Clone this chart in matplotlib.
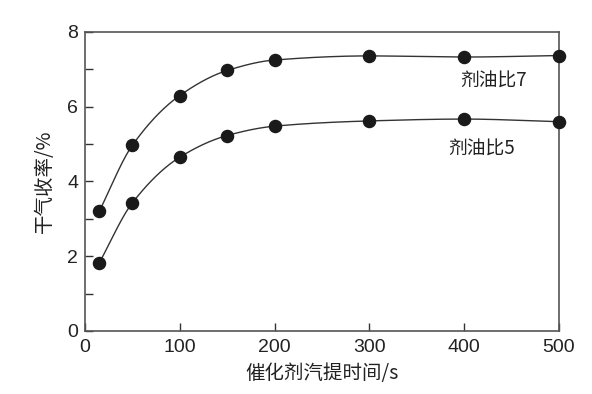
import numpy as np
import matplotlib
matplotlib.use("Agg")
import matplotlib.pyplot as plt
from matplotlib.ticker import MultipleLocator

plt.rcParams['font.family'] = ['Noto Sans CJK SC', 'DejaVu Sans']

time_s = [15, 50, 100, 150, 200, 300, 400, 500]
ratio7 = [3.2, 4.97, 6.3, 6.97, 7.25, 7.36, 7.33, 7.37]
ratio5 = [1.82, 3.43, 4.65, 5.23, 5.48, 5.62, 5.67, 5.6]
xticks = [0, 100, 200, 300, 400, 500]
yticks = [0, 2, 4, 6, 8]


def pchip(x, y, xn):
    x = np.asarray(x, float); y = np.asarray(y, float)
    h = np.diff(x); d = np.diff(y) / h
    n = len(x); m = np.zeros(n)
    for k in range(1, n - 1):
        if d[k - 1] * d[k] > 0:
            w1 = 2 * h[k] + h[k - 1]; w2 = h[k] + 2 * h[k - 1]
            m[k] = (w1 + w2) / (w1 / d[k - 1] + w2 / d[k])
    m[0] = d[0]; m[-1] = d[-1]
    idx = np.clip(np.searchsorted(x, xn) - 1, 0, n - 2)
    t = (xn - x[idx]) / h[idx]
    h00 = 2 * t**3 - 3 * t**2 + 1; h10 = t**3 - 2 * t**2 + t
    h01 = -2 * t**3 + 3 * t**2; h11 = t**3 - t**2
    return h00 * y[idx] + h10 * h[idx] * m[idx] + h01 * y[idx + 1] + h11 * h[idx] * m[idx + 1]


fig = plt.figure(figsize=(5.92, 3.94), dpi=100)
ax = fig.add_axes([0.1436, 0.16, 0.8004, 0.7588])

xs = np.linspace(time_s[0], time_s[-1], 400)
for ys in (ratio7, ratio5):
    ax.plot(xs, pchip(time_s, ys, xs), color='#333333', lw=1.0, zorder=2)
    ax.plot(time_s, ys, 'o', color='#1a1a1a', ms=8.7, zorder=3, clip_on=False)

ax.set_xlim(0, 500)
ax.set_ylim(0, 8)
ax.set_xticks(xticks)
ax.set_yticks(yticks)
ax.yaxis.set_minor_locator(MultipleLocator(1))
ax.tick_params(axis='both', which='both', direction='in', colors='#333333',
               labelcolor='#222222', labelsize=14, width=1)
ax.tick_params(which='major', length=6)
ax.tick_params(which='minor', length=6)
ax.tick_params(axis='x', pad=6)
ax.tick_params(axis='y', pad=5)
for s in ax.spines.values():
    s.set_color('#555555')
    s.set_linewidth(1.2)

for t in ax.get_xticklabels() + ax.get_yticklabels():
    t.set_family(['Liberation Sans', 'DejaVu Sans'])

ax.set_xlabel('催化剂汽提时间/s', fontsize=14, color='#222222', labelpad=5, weight='medium')
ax.set_ylabel('干气收率/%', fontsize=14, color='#222222', labelpad=9, weight='medium')

ax.text(431, 6.69, '剂油比7', fontsize=13.5, ha='center', va='center', color='#222222', weight='medium')
ax.text(419, 4.87, '剂油比5', fontsize=13.5, ha='center', va='center', color='#222222', weight='medium')

fig.savefig('out.png', dpi=100)
